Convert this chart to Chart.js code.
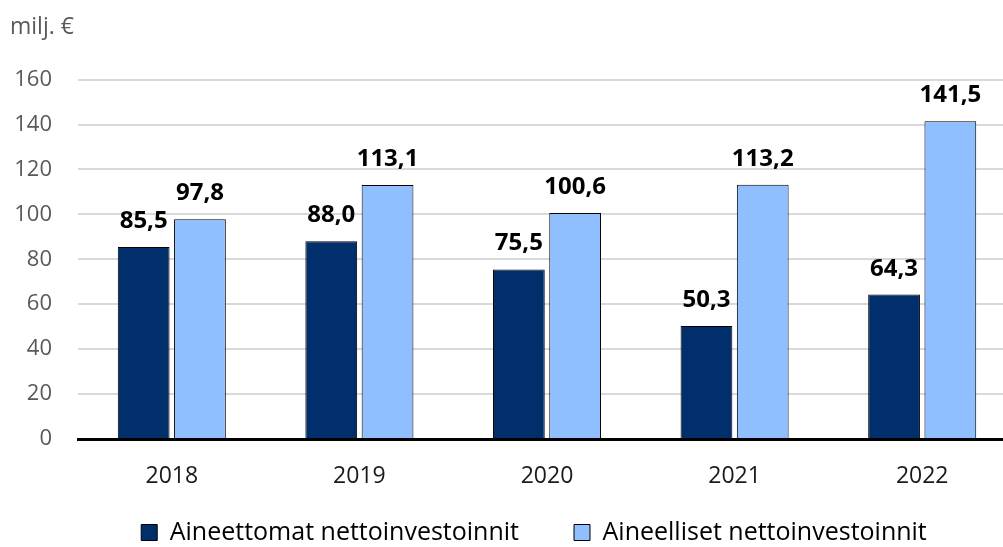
<!DOCTYPE html>
<html><head><meta charset="utf-8">
<script src="https://cdn.jsdelivr.net/npm/chart.js@4/dist/chart.umd.min.js"></script>
<style>
html,body{margin:0;padding:0;background:#fff;overflow:hidden;}
#wrap{width:1016px;height:547px;}
</style></head>
<body><div id="wrap"><canvas id="c"></canvas></div>
<script>
const categories = ['2018','2019','2020','2021','2022'];
const seriesNames = ['Aineettomat nettoinvestoinnit','Aineelliset nettoinvestoinnit'];
const intangible = [85.5, 88.0, 75.5, 50.3, 64.3];
const tangible = [97.8, 113.1, 100.6, 113.2, 141.5];
const yTicks = [0,20,40,60,80,100,120,140,160];
const unitLabel = 'milj. €';

const FONT = "'Open Sans', sans-serif";

const valueLabels = {
  id:'valueLabels',
  afterDatasetsDraw(chart){
    const ctx = chart.ctx;
    ctx.save();
    ctx.font = "bold 24px " + FONT;
    ctx.fillStyle = '#000';
    ctx.textAlign = 'center';
    ctx.textBaseline = 'alphabetic';
    chart.data.datasets.forEach((ds,i)=>{
      chart.getDatasetMeta(i).data.forEach((bar,j)=>{
        const v = ds.data[j];
        ctx.fillText(v.toFixed(1).replace('.',','), bar.x, bar.y - 19);
      });
    });
    ctx.restore();
  }
};

const legendShift = {
  id:'legendShift',
  afterLayout(chart){
    if (chart.legend){ chart.legend.left += 21; chart.legend.right += 21; }
  }
};

new Chart(document.getElementById('c'), {
  type:'bar',
  data:{
    labels: categories,
    datasets:[
      {label:seriesNames[0], data:intangible, backgroundColor:'#002f6c', borderColor:'#000', borderWidth:1},
      {label:seriesNames[1], data:tangible, backgroundColor:'#8fbfff', borderColor:'#000', borderWidth:1}
    ]
  },
  options:{
    responsive:true, maintainAspectRatio:false, animation:false,
    layout:{padding:{left:10,right:0,top:0,bottom:0}},
    datasets:{bar:{categoryPercentage:0.6, barPercentage:0.92}},
    plugins:{
      title:{display:true, text:unitLabel, align:'start', color:'#595959',
        font:{family:FONT, size:23, weight:'normal'}, padding:{top:14,bottom:38}},
      legend:{position:'bottom', maxHeight:82, labels:{color:'#000', font:{family:FONT,size:25}, boxWidth:16, boxHeight:16, padding:55,
        generateLabels(chart){
          return chart.data.datasets.map((d,i)=>({text:d.label, fillStyle:d.backgroundColor, strokeStyle:'#000', lineWidth:1, datasetIndex:i, fontColor:'#000'}));
        }}},
      tooltip:{enabled:false}
    },
    scales:{
      x:{grid:{display:false}, border:{display:true,color:'#000',width:3},
        afterFit(s){s.height = 26; s._computeLabelArea = () => undefined;},
        ticks:{color:'#1a1a1a', font:{family:FONT,size:23}, padding:16}},
      y:{min:0,max:160, afterBuildTicks(s){s.ticks = yTicks.map(v=>({value:v}));},
        afterFit(s){s.width = 68;},
        grid:{color:'#d9d9d9', lineWidth:2, drawTicks:false},
        border:{display:false},
        ticks:{color:'#595959', font:{family:FONT,size:22}, padding:26}}
    }
  },
  plugins:[valueLabels, legendShift]
});
</script></body></html>
